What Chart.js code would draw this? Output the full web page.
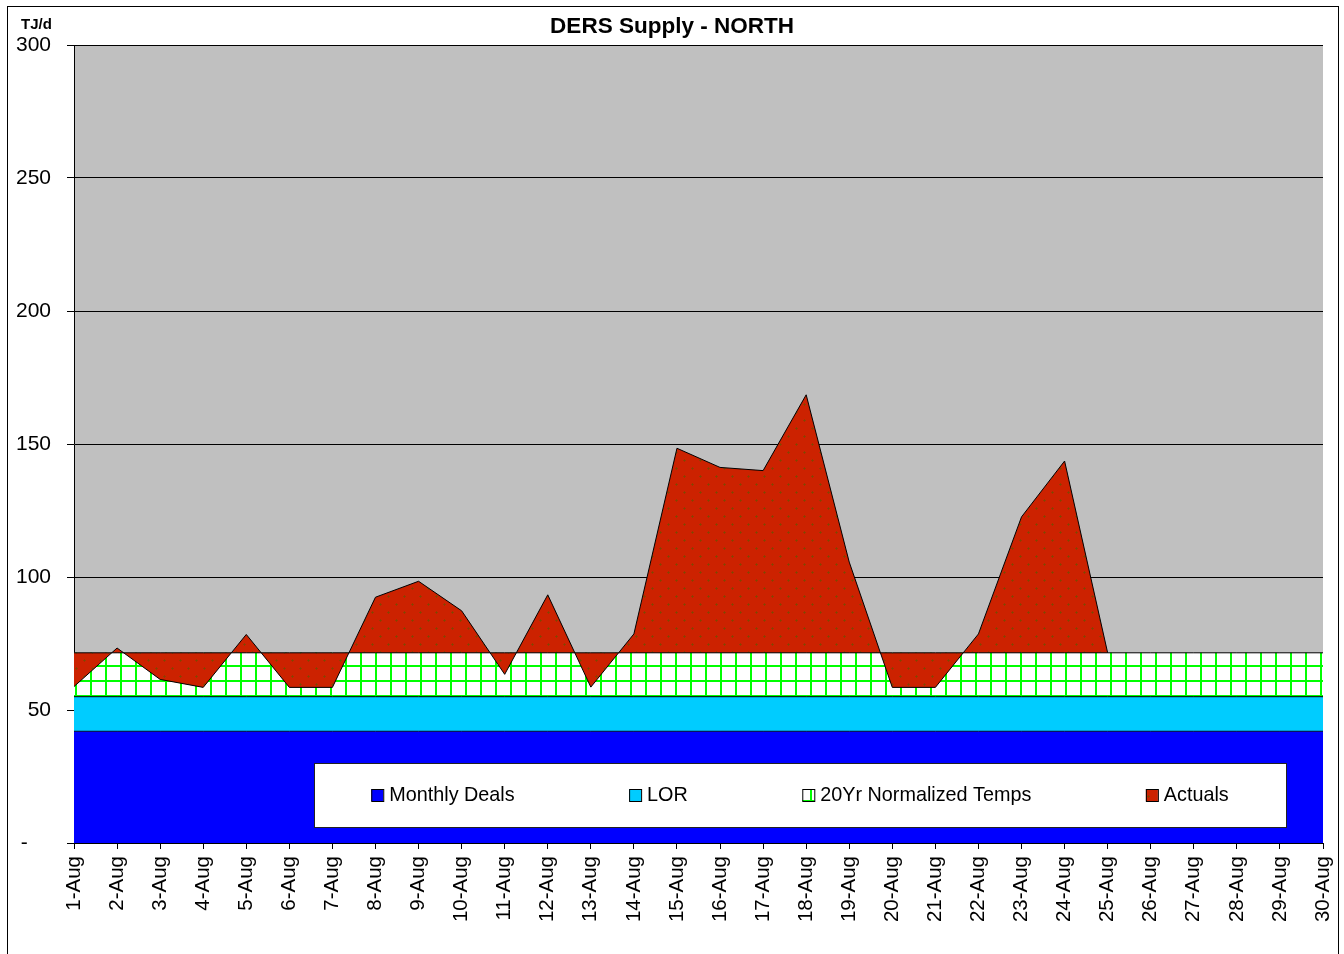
<!DOCTYPE html>
<html>
<head>
<meta charset="utf-8">
<script src="https://cdn.jsdelivr.net/npm/chart.js@4.4.1/dist/chart.umd.min.js"></script>
<style>
  body { margin: 0; background: #fff; }
  #wrap { width: 1344px; height: 954px; }
</style>
</head>
<body>
<div id="wrap"><canvas id="myChart" width="1344" height="954"></canvas></div>
<script>
// Days of the month
var days = ['1-Aug', '2-Aug', '3-Aug', '4-Aug', '5-Aug', '6-Aug', '7-Aug', '8-Aug', '9-Aug', '10-Aug',
            '11-Aug', '12-Aug', '13-Aug', '14-Aug', '15-Aug', '16-Aug', '17-Aug', '18-Aug', '19-Aug', '20-Aug',
            '21-Aug', '22-Aug', '23-Aug', '24-Aug', '25-Aug', '26-Aug', '27-Aug', '28-Aug', '29-Aug', '30-Aug'];

// Top of each band (TJ/d)
var monthlyDeals = [42, 42, 42, 42, 42, 42, 42, 42, 42, 42, 42, 42, 42, 42, 42,
                    42, 42, 42, 42, 42, 42, 42, 42, 42, 42, 42, 42, 42, 42, 42];
var lor = [55, 55, 55, 55, 55, 55, 55, 55, 55, 55, 55, 55, 55, 55, 55,
           55, 55, 55, 55, 55, 55, 55, 55, 55, 55, 55, 55, 55, 55, 55];
var normalizedTemps = [71.5, 71.5, 71.5, 71.5, 71.5, 71.5, 71.5, 71.5, 71.5, 71.5, 71.5, 71.5, 71.5, 71.5, 71.5,
                       71.5, 71.5, 71.5, 71.5, 71.5, 71.5, 71.5, 71.5, 71.5, 71.5, 71.5, 71.5, 71.5, 71.5, 71.5];
var actuals = [58.8, 73.3, 61.5, 58.5, 78.4, 58.5, 58.5, 92.4, 98.4, 87.3,
               63.4, 93.3, 58.6, 78.6, 148.4, 141.2, 140.0, 168.5, 105.6, 58.5,
               58.5, 78.6, 122.6, 143.6, 71.5, null, null, null, null, null];

var yTicks = [0, 50, 100, 150, 200, 250, 300];
var yTickLabels = ['-    ', '50', '100', '150', '200', '250', '300'];

var FONT = 'Arial, "Liberation Sans", sans-serif';
Chart.defaults.font.family = FONT;
Chart.defaults.color = '#000';

// Hoa văn lưới xanh
function gridPattern() {
    var c = document.createElement('canvas');
    c.width = 15; c.height = 15;
    var g = c.getContext('2d');
    g.fillStyle = '#FFFFFF';
    g.fillRect(0, 0, 15, 15);
    g.fillStyle = '#00FF00';
    g.fillRect(0, 0, 2, 15);
    g.fillRect(0, 5, 15, 2);
    return g.createPattern(c, 'repeat');
}

// Hoa văn đỏ có chấm
function redPattern() {
    var c = document.createElement('canvas');
    c.width = 16; c.height = 16;
    var g = c.getContext('2d');
    g.fillStyle = '#CC2200';
    g.fillRect(0, 0, 16, 16);
    g.fillStyle = 'rgba(110, 80, 0, 0.55)';
    [[4, 4], [12, 12]].forEach(function (p) {
        g.fillRect(p[0] - 1, p[1], 3, 1);
        g.fillRect(p[0], p[1] - 1, 1, 3);
    });
    return g.createPattern(c, 'repeat');
}

var plotBackground = {
    id: 'plotBackground',
    beforeDraw: function (chart) {
        var a = chart.chartArea, ctx = chart.ctx;
        ctx.save();
        ctx.fillStyle = '#C0C0C0';
        ctx.fillRect(a.left, a.top, a.right - a.left, a.bottom - a.top);
        ctx.restore();
    }
};

var decorations = {
    id: 'decorations',
    afterDraw: function (chart) {
        var ctx = chart.ctx;
        ctx.save();
        // outer frame
        ctx.strokeStyle = '#000';
        ctx.lineWidth = 1;
        ctx.strokeRect(7.5, 6.5, 1331, 1000);
        // unit label
        ctx.fillStyle = '#000';
        ctx.font = 'bold 15px ' + FONT;
        ctx.textBaseline = 'alphabetic';
        ctx.textAlign = 'left';
        ctx.fillText('TJ/d', 21, 29);
        // legend box
        var box = { left: 314, top: 763, right: 1286, bottom: 827 };
        ctx.fillStyle = '#FFFFFF';
        ctx.fillRect(box.left, box.top, box.right - box.left, box.bottom - box.top);
        ctx.strokeStyle = '#222';
        ctx.strokeRect(box.left + 0.5, box.top + 0.5, box.right - box.left, box.bottom - box.top);
        ctx.font = '19.8px ' + FONT;
        var sets = chart.data.datasets;
        var widths = sets.map(function (ds) { return 18 + ctx.measureText(ds.label).width; });
        var sum = widths.reduce(function (a, b) { return a + b; }, 0);
        var gap = (box.right - box.left - sum) / sets.length;
        var x = box.left + gap / 2;
        var cy = (box.top + box.bottom) / 2;
        ctx.textBaseline = 'middle';
        sets.forEach(function (ds, i) {
            ctx.fillStyle = ds.backgroundColor;
            ctx.fillRect(x, cy - 6, 12, 12);
            ctx.strokeStyle = '#000';
            ctx.strokeRect(x + 0.5, cy - 5.5, 12, 12);
            ctx.fillStyle = '#000';
            ctx.fillText(ds.label, x + 18, cy + 1);
            x += widths[i] + gap;
        });
        ctx.restore();
    }
};

var ctx = document.getElementById('myChart').getContext('2d');
var myChart = new Chart(ctx, {
    type: 'line',
    data: {
        labels: days,
        datasets: [{
            label: 'Monthly Deals',
            data: monthlyDeals,
            backgroundColor: '#0000FF',
            borderColor: '#000033',
            borderWidth: 1,
            fill: 'origin',
            order: 3
        }, {
            label: 'LOR',
            data: lor,
            backgroundColor: '#00CCFF',
            borderColor: '#000000',
            borderWidth: 1,
            fill: '-1',
            order: 2
        }, {
            label: '20Yr Normalized Temps',
            data: normalizedTemps,
            backgroundColor: gridPattern(),
            borderColor: '#000000',
            borderWidth: 1,
            fill: '-1',
            order: 1
        }, {
            label: 'Actuals',
            data: actuals,
            backgroundColor: redPattern(),
            borderColor: '#000000',
            borderWidth: 1,
            fill: '-1',
            order: 0
        }]
    },
    options: {
        responsive: false,
        animation: false,
        events: [],
        elements: {
            point: { radius: 0, hoverRadius: 0 },
            line: { tension: 0 }
        },
        layout: { padding: 0 },
        plugins: {
            legend: { display: false },
            tooltip: { enabled: false },
            filler: { drawTime: 'beforeDatasetsDraw' },
            title: {
                display: true,
                text: 'DERS Supply - NORTH',
                color: '#000',
                font: { size: 22.5, weight: 'bold' },
                padding: { top: 13, bottom: 5 }
            }
        },
        scales: {
            x: {
                grid: { drawOnChartArea: false, drawTicks: true, tickLength: 6, color: '#000' },
                border: { display: true, color: '#000' },
                ticks: {
                    autoSkip: false, minRotation: 90, maxRotation: 90, padding: 7,
                    color: '#000', font: { size: 20.5 }
                },
                afterFit: function (s) {
                    s.height = 111;
                    s.paddingLeft = 0;
                    s.paddingRight = 0;
                }
            },
            y: {
                position: 'left',
                min: 0,
                max: 300,
                grid: { color: '#000', drawTicks: true, tickLength: 7 },
                border: { display: true, color: '#000' },
                ticks: {
                    padding: 16, color: '#000', font: { size: 21 },
                    callback: function (v, i) { return yTickLabels[i]; }
                },
                afterBuildTicks: function (s) { s.ticks = yTicks.map(function (v) { return { value: v }; }); },
                afterFit: function (s) { s.width = 74; }
            },
            yRight: {
                position: 'right',
                display: true,
                grid: { display: false },
                border: { display: false },
                ticks: { display: false },
                afterFit: function (s) { s.width = 21; }
            }
        }
    },
    plugins: [plotBackground, decorations]
});
</script>
</body>
</html>
